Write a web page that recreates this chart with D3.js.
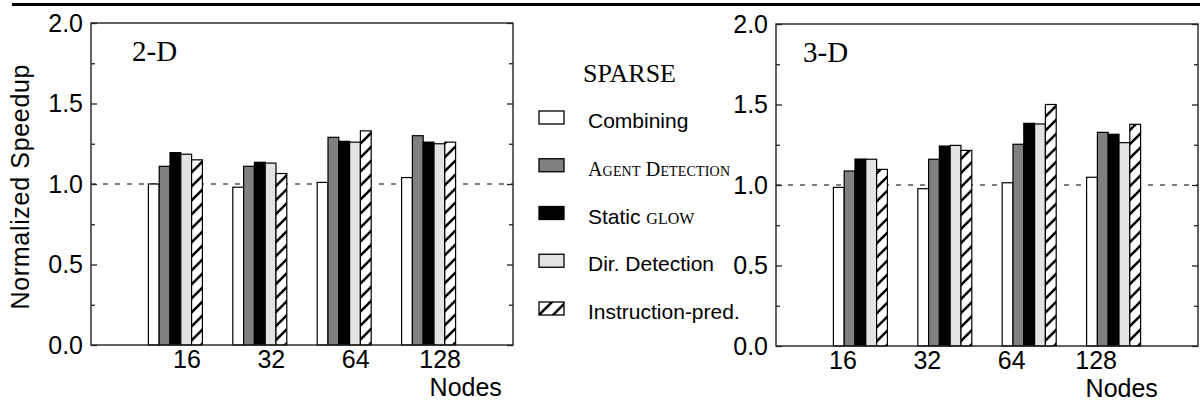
<!DOCTYPE html>
<html><head><meta charset="utf-8">
<script src="https://cdn.jsdelivr.net/npm/d3@7"></script>
<style>
body{margin:0;background:#fff}
svg{display:block}
</style></head><body>
<svg id="chart" width="1200" height="402"></svg>
<script>
// Node counts along the x axis
const nodeCounts = ["16", "32", "64", "128"];
// Schemes shown in each group, left to right
const seriesNames = ["Combining", "Agent Detection", "Static glow", "Dir. Detection", "Instruction-pred."];
const seriesFills = ["#ffffff", "#808080", "#000000", "#e3e3e3", "url(#hatch)"];
// Axis ticks
const yMajorTicks = [0, 0.5, 1.0, 1.5, 2.0];
const yMinorTicks = [0.25, 0.75, 1.25, 1.75];
const referenceLevel = 1.0;
const panelTitles = ["2-D", "3-D"];

// Normalized speedup, one row per scheme, one column per node count
const speedup2D = [
  [1.00, 0.98, 1.01, 1.04],
  [1.11, 1.11, 1.29, 1.30],
  [1.195, 1.135, 1.265, 1.26],
  [1.185, 1.13, 1.26, 1.25],
  [1.15, 1.065, 1.33, 1.26]
];
const speedup3D = [
  [0.985, 0.977, 1.014, 1.048],
  [1.087, 1.16, 1.253, 1.327],
  [1.161, 1.242, 1.383, 1.315],
  [1.16, 1.246, 1.379, 1.263],
  [1.097, 1.215, 1.50, 1.377]
];

const svg = d3.select("#chart");
const SANS = "'Liberation Sans', Arial, Helvetica, sans-serif";
const SERIF = "'Liberation Serif', 'Times New Roman', serif";

// diagonal hatch fill
const defs = svg.append("defs");
const pat = defs.append("pattern").attr("id", "hatch")
  .attr("patternUnits", "userSpaceOnUse").attr("width", 14).attr("height", 14);
pat.append("rect").attr("width", 14).attr("height", 14).attr("fill", "#fff");
pat.append("path").attr("d", "M-1,15 L15,-1 M-4,4 L4,-4 M10,18 L18,10")
  .attr("stroke", "#000").attr("stroke-width", 2.6);

// heavy rule across the top
svg.append("line").attr("x1", 12).attr("x2", 1200).attr("y1", 4.5).attr("y2", 4.5)
  .attr("stroke", "#000").attr("stroke-width", 3);

const panels = [
  { x0: 91, x1: 513, y0: 23, y1: 345, data: speedup2D, title: panelTitles[0], titleDx: 41, labelShift: 11 },
  { x0: 776, x1: 1198, y0: 24, y1: 346, data: speedup3D, title: panelTitles[1], titleDx: 27, labelShift: -18 }
];

const barW = 10.8;

panels.forEach(p => {
  const g = svg.append("g");
  const y = d3.scaleLinear().domain([0, 2]).range([p.y1, p.y0]);
  const slot = d3.scaleLinear().domain([0, nodeCounts.length + 1]).range([p.x0, p.x1]);
  const labelX = d3.scalePoint().domain(nodeCounts)
    .range([slot(1) + p.labelShift, slot(nodeCounts.length) + p.labelShift]);

  // reference line at 1.0
  g.append("line").attr("x1", p.x0).attr("x2", p.x1)
    .attr("y1", y(referenceLevel)).attr("y2", y(referenceLevel))
    .attr("stroke", "#000").attr("stroke-width", 1.2).attr("stroke-dasharray", "5,7");

  // bars
  p.data.forEach((row, j) => {
    g.selectAll(null).data(row).join("rect")
      .attr("x", (v, i) => slot(i + 1) + (j - 2.5) * barW)
      .attr("y", v => y(v))
      .attr("width", barW)
      .attr("height", v => y(0) - y(v))
      .attr("fill", seriesFills[j])
      .attr("stroke", "#000").attr("stroke-width", 1.2);
  });

  // frame
  g.append("rect").attr("x", p.x0).attr("y", p.y0)
    .attr("width", p.x1 - p.x0).attr("height", p.y1 - p.y0)
    .attr("fill", "none").attr("stroke", "#222").attr("stroke-width", 1.4);

  // y axis: labels and inward ticks
  g.append("g").attr("transform", `translate(${p.x0},0)`)
    .call(d3.axisLeft(y).tickValues(yMajorTicks).tickSize(-6).tickPadding(8).tickFormat(d3.format(".1f")));
  g.append("g").attr("transform", `translate(${p.x0},0)`)
    .call(d3.axisLeft(y).tickValues(yMinorTicks).tickSize(-4).tickFormat(""));
  g.append("g").attr("transform", `translate(${p.x1},0)`)
    .call(d3.axisRight(y).tickValues(yMajorTicks).tickSize(-6).tickFormat(""));
  g.append("g").attr("transform", `translate(${p.x1},0)`)
    .call(d3.axisRight(y).tickValues(yMinorTicks).tickSize(-4).tickFormat(""));

  // x axis labels
  g.append("g").attr("transform", `translate(0,${p.y1})`)
    .call(d3.axisBottom(labelX).tickSize(0).tickPadding(5));

  g.selectAll(".domain").remove();
  g.selectAll(".tick line").attr("stroke", "#222").attr("stroke-width", 1.3);
  g.selectAll(".tick text").attr("fill", "#000")
    .style("font-family", SANS).style("font-size", "25px");

  // x axis title
  g.append("text").attr("x", labelX(nodeCounts[nodeCounts.length - 1]) - 10).attr("y", p.y1 + 51)
    .style("font-family", SANS).style("font-size", "25px").text("Nodes");

  // panel title
  g.append("text").attr("x", p.x0 + p.titleDx).attr("y", p.y0 + 38)
    .style("font-family", SERIF).style("font-size", "29px").text(p.title);
});

// y axis title
svg.append("text")
  .attr("transform", "translate(29,187) rotate(-90)")
  .attr("text-anchor", "middle")
  .attr("textLength", 245)
  .style("font-family", SANS).style("font-size", "25px")
  .text("Normalized Speedup");

// legend
const legend = svg.append("g");
legend.append("text").attr("x", 583).attr("y", 82)
  .style("font-family", SERIF).style("font-size", "26px").text("SPARSE");

const rowY = d3.scaleLinear().domain([0, seriesNames.length - 1]).range([111, 302]);
seriesNames.forEach((name, j) => {
  const top = rowY(j);
  legend.append("rect").attr("x", 539).attr("y", top).attr("width", 25).attr("height", 13)
    .attr("fill", seriesFills[j]).attr("stroke", "#000").attr("stroke-width", 1.3);
  const t = legend.append("text").attr("x", 588).attr("y", top + 17)
    .style("font-family", SANS).style("font-size", "21px");
  if (name === "Agent Detection") {
    t.attr("textLength", 142)
      .style("font-family", SERIF).style("font-size", "20px").style("font-variant", "small-caps")
      .text(name);
  } else if (name === "Static glow") {
    const parts = name.split(" ");
    t.append("tspan").text(parts[0] + " ");
    t.append("tspan").style("font-family", SERIF).style("font-size", "23px")
      .style("font-variant", "small-caps").text(parts[1]);
  } else {
    t.text(name);
  }
});
</script>
</body></html>
